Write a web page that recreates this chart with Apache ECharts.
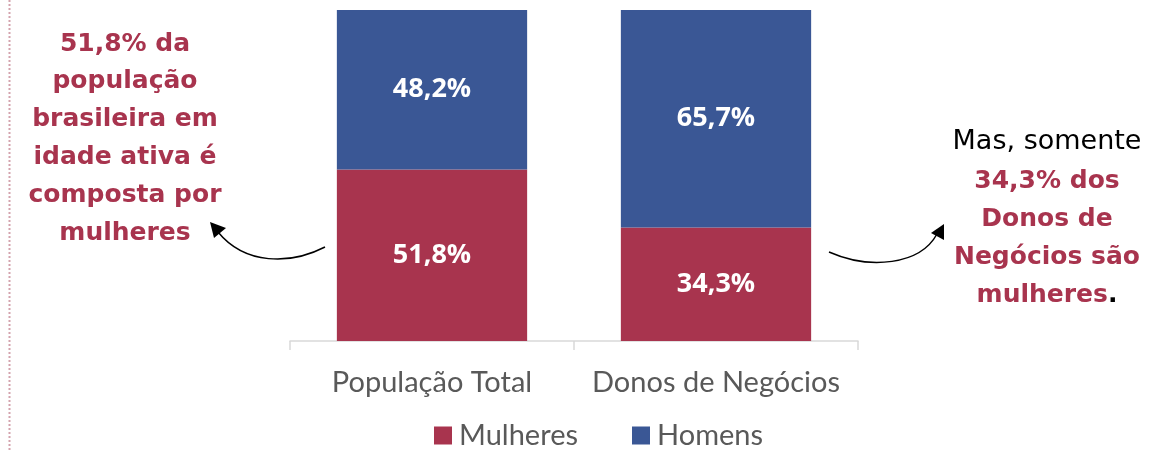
<!DOCTYPE html>
<html>
<head>
<meta charset="utf-8">
<script src="https://cdn.jsdelivr.net/npm/echarts@6/dist/echarts.min.js"></script>
<style>
  html, body { margin: 0; padding: 0; background: #fff; }
  #main { width: 1173px; height: 451px; }
</style>
</head>
<body>
<div id="main"></div>
<script>
// dados do gráfico
var categorias = ['População Total', 'Donos de Negócios'];
var mulheres = [51.8, 34.3];
var homens = [48.2, 65.7];

// textos de anotação
var textoEsquerda = ['51,8% da', 'população', 'brasileira em', 'idade ativa é', 'composta por', 'mulheres'];
var textoDireita = ['34,3% dos', 'Donos de', 'Negócios são'];

var vermelho = '#A8344E';
var azul = '#3A5795';
var fonteNota = '"DejaVu Sans"';

var chart = echarts.init(document.getElementById('main'));

function fmt(p) {
  return p.value.toFixed(1).replace('.', ',') + '%';
}

var graficos = [
  // linha pontilhada à esquerda
  {
    type: 'line',
    shape: { x1: 9.5, y1: 0, x2: 9.5, y2: 451 },
    style: { stroke: '#d4a3ae', lineWidth: 2, lineDash: [2, 2] }
  },
  // seta da esquerda
  {
    type: 'bezierCurve',
    shape: { x1: 325, y1: 247, cpx1: 290, cpy1: 265, cpx2: 245, cpy2: 265, x2: 218, y2: 232 },
    style: { stroke: '#000', lineWidth: 1.5, fill: null }
  },
  {
    type: 'polygon',
    shape: { points: [[210, 222], [226, 228], [214, 238]] },
    style: { fill: '#000' }
  },
  // seta da direita
  {
    type: 'bezierCurve',
    shape: { x1: 829, y1: 252, cpx1: 870, cpy1: 270, cpx2: 920, cpy2: 265, x2: 937, y2: 234 },
    style: { stroke: '#000', lineWidth: 1.5, fill: null }
  },
  {
    type: 'polygon',
    shape: { points: [[944, 224], [944, 240], [931, 233]] },
    style: { fill: '#000' }
  },
  {
    type: 'text',
    style: {
      x: 1047, y: 142, text: 'Mas, somente',
      align: 'center', verticalAlign: 'middle',
      font: '27px ' + fonteNota, fill: '#000'
    }
  },
  {
    type: 'text',
    style: {
      x: 1047, y: 295, text: '{b|mulheres}{p|.}',
      align: 'center', verticalAlign: 'middle',
      rich: {
        b: { font: 'bold 25px ' + fonteNota, fill: vermelho },
        p: { font: 'bold 25px ' + fonteNota, fill: '#000' }
      }
    }
  }
];

textoEsquerda.forEach(function (t, i) {
  graficos.push({
    type: 'text',
    style: {
      x: 125, y: 44 + i * 37.8, text: t,
      align: 'center', verticalAlign: 'middle',
      font: 'bold 25px ' + fonteNota, fill: vermelho
    }
  });
});
textoDireita.forEach(function (t, i) {
  graficos.push({
    type: 'text',
    style: {
      x: 1047, y: 181 + i * 38, text: t,
      align: 'center', verticalAlign: 'middle',
      font: 'bold 25px ' + fonteNota, fill: vermelho
    }
  });
});

var option = {
  animation: false,
  grid: { left: 290, right: 315, top: 10, bottom: 110 },
  legend: {
    top: 416,
    left: 429,
    itemWidth: 18,
    itemHeight: 18,
    itemGap: 54,
    icon: 'rect',
    textStyle: { fontFamily: 'Lato', fontSize: 29, color: '#595959', padding: [0, 0, 0, 2] },
    data: ['Mulheres', 'Homens']
  },
  xAxis: {
    type: 'category',
    data: categorias,
    axisLine: { lineStyle: { color: '#d9d9d9', width: 1.5 } },
    axisTick: { show: true, length: 9, lineStyle: { color: '#d9d9d9', width: 1.5 } },
    axisLabel: { interval: 0, fontFamily: 'Lato', fontSize: 29, color: '#595959', margin: 27 }
  },
  yAxis: {
    type: 'value',
    min: 0,
    max: 100,
    show: false
  },
  series: [
    {
      name: 'Mulheres',
      type: 'bar',
      stack: 'total',
      barWidth: '67%',
      data: mulheres,
      itemStyle: { color: vermelho },
      label: {
        show: true,
        color: '#fff',
        fontFamily: 'Open Sans',
        fontWeight: 'bold',
        fontSize: 27,
        formatter: fmt
      }
    },
    {
      name: 'Homens',
      type: 'bar',
      stack: 'total',
      data: homens,
      itemStyle: { color: azul },
      label: {
        show: true,
        color: '#fff',
        fontFamily: 'Open Sans',
        fontWeight: 'bold',
        fontSize: 27,
        formatter: fmt
      }
    }
  ],
  graphic: graficos
};

chart.setOption(option);
</script>
</body>
</html>
